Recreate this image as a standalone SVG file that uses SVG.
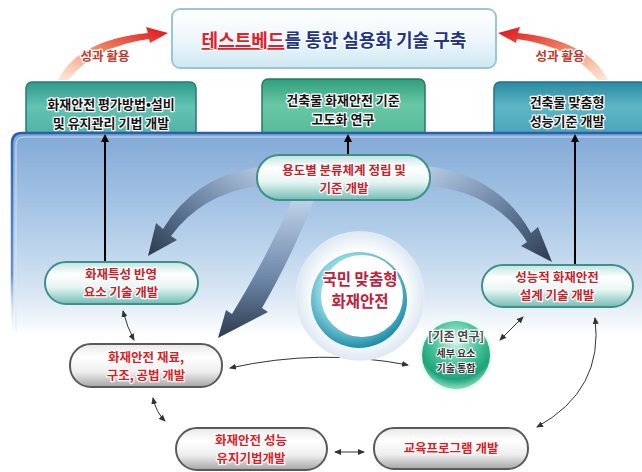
<svg xmlns="http://www.w3.org/2000/svg" width="642" height="472" viewBox="0 0 642 472">
<defs>
<style>
text{font-family:"Noto Sans CJK KR","Noto Sans",sans-serif;font-weight:bold;text-anchor:middle;paint-order:stroke;stroke-linejoin:round}
.tb{font-size:13px;fill:#141414;stroke:#ffffff;stroke-width:2.5}
.tr{font-size:12.5px;fill:#c4232c;stroke:#ffffff;stroke-width:2.5}
.gr{font-size:12.5px;fill:#e01b24;stroke:#ffffff;stroke-width:2.5}
.lbl{font-size:12.5px;fill:#c0392b;stroke:#ffffff;stroke-width:2.5}
.thin{fill:none;stroke:#333;stroke-width:1;marker-start:url(#sh);marker-end:url(#sh)}
.vert{fill:none;stroke:#000;stroke-width:2;marker-end:url(#ah)}
.pillT{fill:url(#gPillT);stroke:#3f8f8a;stroke-width:2}
.pillG{fill:url(#gPillG);stroke:#5a5a5a;stroke-width:2}
</style>
<linearGradient id="gTop" x1="0" y1="0" x2="0" y2="1"><stop offset="0" stop-color="#ffffff"/><stop offset="0.5" stop-color="#eef7fb"/><stop offset="1" stop-color="#cfe8f2"/></linearGradient>
<linearGradient id="gTeal1" x1="0" y1="0" x2="0" y2="1"><stop offset="0" stop-color="#2f9a8c"/><stop offset="0.4" stop-color="#62c3b3"/><stop offset="1" stop-color="#4cae9f"/></linearGradient>
<linearGradient id="gTeal2" x1="0" y1="0" x2="0" y2="1"><stop offset="0" stop-color="#2f9e7c"/><stop offset="0.4" stop-color="#68c8a6"/><stop offset="1" stop-color="#4fb595"/></linearGradient>
<linearGradient id="gTeal3" x1="0" y1="0" x2="0" y2="1"><stop offset="0" stop-color="#2a8aa0"/><stop offset="0.4" stop-color="#5db6c6"/><stop offset="1" stop-color="#459fb2"/></linearGradient>
<linearGradient id="gPanel" x1="0" y1="0" x2="0" y2="1"><stop offset="0" stop-color="#82a9d6"/><stop offset="0.45" stop-color="#aecbe8"/><stop offset="0.8" stop-color="#dae7f4"/><stop offset="1" stop-color="#ffffff"/></linearGradient>
<linearGradient id="gPanelS" x1="0" y1="0" x2="0" y2="1"><stop offset="0" stop-color="#2b5eab"/><stop offset="0.7" stop-color="#6b93c9"/><stop offset="1" stop-color="#ffffff" stop-opacity="0"/></linearGradient>
<linearGradient id="gPillT" x1="0" y1="0" x2="0" y2="1"><stop offset="0" stop-color="#bfe5df"/><stop offset="0.3" stop-color="#ffffff"/><stop offset="0.6" stop-color="#e6f5f3"/><stop offset="1" stop-color="#73bdb5"/></linearGradient>
<linearGradient id="gPillG" x1="0" y1="0" x2="0" y2="1"><stop offset="0" stop-color="#e8e8e8"/><stop offset="0.3" stop-color="#ffffff"/><stop offset="0.65" stop-color="#eeeeee"/><stop offset="1" stop-color="#a5a5a5"/></linearGradient>
<linearGradient id="gRedL" x1="0" y1="1" x2="1" y2="0"><stop offset="0" stop-color="#fbd9bf" stop-opacity="0.6"/><stop offset="0.5" stop-color="#f08060"/><stop offset="1" stop-color="#e0101a"/></linearGradient>
<linearGradient id="gRedR" x1="1" y1="1" x2="0" y2="0"><stop offset="0" stop-color="#fbd9bf" stop-opacity="0.6"/><stop offset="0.5" stop-color="#f08060"/><stop offset="1" stop-color="#e0101a"/></linearGradient>
<linearGradient id="gSwL" x1="1" y1="0" x2="0" y2="1"><stop offset="0" stop-color="#b8cde6"/><stop offset="0.6" stop-color="#5d7594"/><stop offset="1" stop-color="#2c3a4c"/></linearGradient>
<linearGradient id="gSwM" x1="0" y1="0" x2="0" y2="1"><stop offset="0" stop-color="#c2d5ec"/><stop offset="0.6" stop-color="#6a84a6"/><stop offset="1" stop-color="#2c3a4c"/></linearGradient>
<linearGradient id="gSwR" x1="0" y1="0" x2="1" y2="1"><stop offset="0" stop-color="#b8cde6"/><stop offset="0.6" stop-color="#5d7594"/><stop offset="1" stop-color="#2c3a4c"/></linearGradient>
<radialGradient id="gOuter" cx="0.5" cy="0.5" r="0.5"><stop offset="0.7" stop-color="#ffffff"/><stop offset="1" stop-color="#dde8f2"/></radialGradient>
<radialGradient id="gRing" cx="0.45" cy="0.4" r="0.6"><stop offset="0.6" stop-color="#8fd6e4"/><stop offset="1" stop-color="#1f8ea8"/></radialGradient>
<radialGradient id="gGreen" cx="0.5" cy="0.3" r="0.7"><stop offset="0" stop-color="#d9f7ea"/><stop offset="0.45" stop-color="#4cc79c"/><stop offset="0.8" stop-color="#1ea27a"/><stop offset="1" stop-color="#8fdcc0"/></radialGradient>
<radialGradient id="gGlow" cx="0.5" cy="0.5" r="0.5"><stop offset="0.75" stop-color="#c8f1e6"/><stop offset="1" stop-color="#ffffff" stop-opacity="0"/></radialGradient>
<marker id="ah" markerWidth="8" markerHeight="8" refX="6" refY="4" orient="auto" markerUnits="userSpaceOnUse"><path d="M0,0 L8,4 L0,8 Z" fill="#000"/></marker>
<marker id="sh" markerWidth="7" markerHeight="6" refX="6" refY="3" orient="auto-start-reverse" markerUnits="userSpaceOnUse"><path d="M0,0 L7,3 L0,6 Z" fill="#333"/></marker>
</defs>
<rect width="642" height="472" fill="#ffffff"/>

<g id="top-box">
<rect x="172" y="9" width="324" height="59" rx="8" fill="url(#gTop)" stroke="#9cc6d8" stroke-width="2"/>
<text x="334" y="47" style="font-size:18px;stroke:#ffffff;stroke-width:2"><tspan fill="#e3202a" text-decoration="underline">테스트베드</tspan><tspan fill="#23358a">를 통한 실용화 기술 구축</tspan></text>
</g>

<g id="result-arrows">
<path d="M58,80 Q78,40 148,33 L146,27 L168,33 L150,43 L149,39 Q96,46 68,80 Z" fill="url(#gRedL)"/>
<path d="M608,80 Q588,40 518,33 L520,27 L498,33 L516,43 L517,39 Q570,46 598,80 Z" fill="url(#gRedR)"/>
<text class="lbl" x="105" y="61">성과 활용</text>
<text class="lbl" x="560" y="61">성과 활용</text>
</g>

<g id="box-left">
<rect x="26" y="82" width="170" height="62" rx="6" fill="url(#gTeal1)" stroke="#2a7a70" stroke-width="1.5"/>
<text class="tb" x="111" y="109">화재안전 평가방법•설비</text>
<text class="tb" x="111" y="128">및 유지관리 기법 개발</text>
</g>
<g id="box-mid">
<rect x="262" y="79" width="163" height="65" rx="6" fill="url(#gTeal2)" stroke="#2a7a62" stroke-width="1.5"/>
<text class="tb" x="343" y="105">건축물 화재안전 기준</text>
<text class="tb" x="343" y="124">고도화 연구</text>
</g>
<g id="box-right">
<rect x="494" y="82" width="152" height="62" rx="6" fill="url(#gTeal3)" stroke="#23708a" stroke-width="1.5"/>
<text class="tb" x="567" y="107">건축물 맞춤형</text>
<text class="tb" x="567" y="126">성능기준 개발</text>
</g>

<g id="panel">
<path d="M12,336 L12,143 Q12,133 22,133 L642,133 L642,336 Z" fill="url(#gPanel)"/>
<path d="M12,336 L12,143 Q12,133 22,133 L642,133" fill="none" stroke="url(#gPanelS)" stroke-width="2.5"/>
<path d="M16,330 L16,145 Q16,137 24,137 L642,137" fill="none" stroke="#dbe8f6" stroke-width="1" opacity="0.8"/>
</g>

<g id="swooshes">
<path d="M268,166 Q197,172 163,229 L156,223 L148,256 L177,240 L171,236 Q205,190 268,185 Z" fill="url(#gSwL)"/>
<path d="M294,196 L316,196 Q290,260 262,308 L268,312 L218,338 L226,310 L232,314 Q268,255 294,196 Z" fill="url(#gSwM)"/>
<path d="M425,166 Q498,174 531,233 L538,227 L552,262 L521,246 L527,242 Q496,192 425,185 Z" fill="url(#gSwR)"/>
</g>

<g id="connectors">
<line class="vert" x1="105" y1="262" x2="105" y2="136"/>
<line class="vert" x1="348" y1="155" x2="348" y2="136"/>
<line class="vert" x1="575" y1="264" x2="575" y2="136"/>
<path class="thin" d="M123,311 Q127,327 134,340"/>
<path class="thin" d="M230,368 Q320,348 408,365"/>
<path class="thin" d="M153,398 Q156,412 165,421"/>
<path class="thin" d="M335,452 L364,452"/>
<path class="thin" d="M500,340 L523,317"/>
<path class="thin" d="M595,318 Q604,390 537,427"/>
</g>

<g id="core">
<circle cx="360" cy="296" r="64" fill="url(#gOuter)" stroke="#e4ecf3" stroke-width="1.5"/>
<circle cx="359" cy="300" r="48" fill="url(#gRing)"/>
<circle cx="362" cy="296" r="41" fill="#ffffff"/>
<text class="tr" x="360" y="285" style="font-size:15.5px;fill:#c0203a">국민 맞춤형</text>
<text class="tr" x="360" y="307" style="font-size:15.5px;fill:#c0203a">화재안전</text>
</g>

<g id="node-center">
<rect x="257" y="155" width="173" height="45" rx="22" class="pillT"/>
<text class="tr" x="344" y="175">용도별 분류체계 정립 및</text>
<text class="tr" x="344" y="193">기준 개발</text>
</g>
<g id="node-fire-char">
<rect x="45" y="262" width="153" height="42" rx="21" class="pillT"/>
<text class="tr" x="121" y="279">화재특성 반영</text>
<text class="tr" x="121" y="297">요소 기술 개발</text>
</g>
<g id="node-perf-design">
<rect x="482" y="265" width="151" height="42" rx="21" class="pillT"/>
<text class="tr" x="557" y="282">성능적 화재안전</text>
<text class="tr" x="557" y="300">설계 기술 개발</text>
</g>
<g id="node-material">
<rect x="70" y="344" width="152" height="43" rx="21" class="pillG"/>
<text class="gr" x="146" y="362">화재안전 재료,</text>
<text class="gr" x="146" y="380">구조, 공법 개발</text>
</g>
<g id="node-maintain">
<rect x="176" y="428" width="151" height="42" rx="21" class="pillG"/>
<text class="gr" x="251" y="445">화재안전 성능</text>
<text class="gr" x="251" y="463">유지기법개발</text>
</g>
<g id="node-edu">
<rect x="374" y="428" width="154" height="41" rx="20" class="pillG"/>
<text class="gr" x="451" y="453">교육프로그램 개발</text>
</g>
<g id="node-existing">
<circle cx="456" cy="355" r="41" fill="url(#gGlow)"/>
<circle cx="456" cy="355" r="34" fill="url(#gGreen)"/>
<text x="456" y="341" style="font-size:12px;fill:#4a4a4a;stroke:#ffffff;stroke-width:2.5">[기존 연구]</text>
<text x="456" y="357" style="font-size:10px;fill:#333;stroke:#ffffff;stroke-width:2">세부 요소</text>
<text x="456" y="372" style="font-size:10px;fill:#333;stroke:#ffffff;stroke-width:2">기술 통합</text>
</g>
</svg>
